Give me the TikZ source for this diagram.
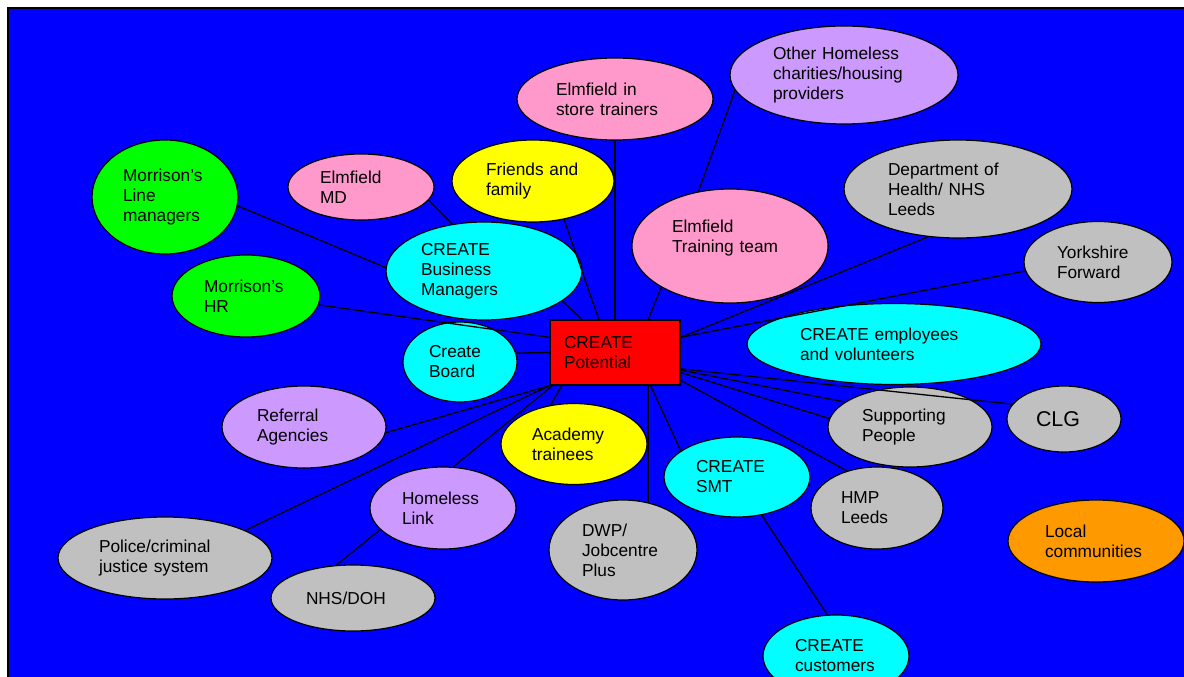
\documentclass[tikz,border=0pt]{standalone}
\usepackage{fontspec}
\setmainfont{Liberation Sans}
\usetikzlibrary{shapes.geometric}
\definecolor{bgblue}{RGB}{0,0,255}
\definecolor{mgreen}{RGB}{0,255,0}
\definecolor{epink}{RGB}{255,153,204}
\definecolor{fyellow}{RGB}{255,255,0}
\definecolor{ccyan}{RGB}{0,255,255}
\definecolor{hlilac}{RGB}{204,153,255}
\definecolor{ggrey}{RGB}{192,192,192}
\definecolor{lorange}{RGB}{255,153,0}
\definecolor{cred}{RGB}{255,0,0}

\begin{document}
\begin{tikzpicture}[x=1pt, y=-1pt,
	bubble/.style={ellipse, draw=black, line width=1.2pt, inner sep=0pt, align=left,
		font=\fontsize{17.3}{20}\selectfont},
	link/.style={draw=black, line width=1.3pt}]
			%%%%% START %%%%%
			
			\useasboundingbox (0, 0) rectangle (1184, 677);
			\clip (0, 0) rectangle (1184, 677);
			\draw[fill=bgblue, line width=2pt] (8, 8) rectangle (1200, 700);
			
			\node[draw=black, line width=1.6pt, fill=cred, minimum width=130pt, minimum height=65pt,
				text width=102pt, inner sep=0pt, align=left, font=\fontsize{17.3}{20}\selectfont]
				(cp) at (615, 352.5) {CREATE\\Potential};
			
			\node[bubble, fill=mgreen, minimum width=146pt, minimum height=114pt, text width=84pt] (mlm) at (165, 197) {Morrison’s\\Line\\managers};
			\node[bubble, fill=epink, minimum width=146pt, minimum height=66pt, text width=82pt] (emd) at (361, 187) {Elmfield\\MD};
			\node[bubble, fill=fyellow, minimum width=162pt, minimum height=82pt, text width=94pt] (ff) at (533, 181) {Friends and\\family};
			\node[bubble, fill=epink, minimum width=196pt, minimum height=82pt, text width=118pt] (est) at (615, 99) {Elmfield in\\store trainers};
			\node[bubble, fill=hlilac, minimum width=228pt, minimum height=98pt, text width=142pt] (ohc) at (844, 75) {Other Homeless\\charities/housing\\providers};
			\node[bubble, fill=epink, minimum width=196pt, minimum height=114pt, text width=116pt] (ett) at (730, 246) {Elmfield\\Training team\\\mbox{}};
			\node[bubble, fill=ggrey, minimum width=228pt, minimum height=98pt, text width=140pt] (dh) at (958, 189) {Department of\\Health/ NHS\\Leeds};
			\node[bubble, fill=ggrey, minimum width=148pt, minimum height=81pt, text width=82pt] (yf) at (1098, 262) {Yorkshire\\Forward};
			\node[bubble, fill=ccyan, minimum width=196pt, minimum height=98pt, text width=126pt] (bm) at (484, 271) {CREATE\\Business\\Managers};
			\node[bubble, fill=mgreen, minimum width=148pt, minimum height=82pt, text width=84pt] (hr) at (246, 296) {Morrison’s\\HR};
			\node[bubble, fill=ccyan, minimum width=114pt, minimum height=80pt, text width=62pt] (cb) at (460, 362) {Create\\Board};
			\node[bubble, fill=ccyan, minimum width=294pt, minimum height=81pt, text width=188pt] (emp) at (894, 344) {CREATE employees\\and volunteers};
			\node[bubble, fill=ggrey, minimum width=114pt, minimum height=66pt, text width=56pt,
				font=\fontsize{21.4}{24}\selectfont] (clg) at (1064, 419) {CLG};
			\node[bubble, fill=ggrey, minimum width=164pt, minimum height=80pt, text width=96pt] (sp) at (910, 427) {Supporting\\People};
			\node[bubble, fill=hlilac, minimum width=164pt, minimum height=82pt, text width=94pt] (ra) at (304, 427) {Referral\\Agencies};
			\node[bubble, fill=fyellow, minimum width=146pt, minimum height=81pt, text width=84pt] (at) at (574, 444) {Academy\\trainees};
			\node[bubble, fill=ccyan, minimum width=146pt, minimum height=80pt, text width=82pt] (smt) at (737, 477) {CREATE\\SMT};
			\node[bubble, fill=ggrey, minimum width=132pt, minimum height=82pt, text width=72pt] (hmp) at (877, 508) {HMP\\Leeds};
			\node[bubble, fill=lorange, minimum width=176pt, minimum height=82pt, text width=102pt] (lc) at (1096, 541) {Local\\communities};
			\node[bubble, fill=ggrey, minimum width=148pt, minimum height=100pt, text width=82pt] (dwp) at (623, 550) {DWP/\\Jobcentre\\Plus};
			\node[bubble, fill=hlilac, minimum width=146pt, minimum height=82pt, text width=82pt] (hl) at (443, 508) {Homeless\\Link};
			\node[bubble, fill=ggrey, minimum width=214pt, minimum height=82pt, text width=132pt] (pol) at (165, 558) {Police/criminal\\justice system};
			\node[bubble, fill=ggrey, minimum width=164pt, minimum height=66pt, text width=94pt] (nhs) at (353, 598) {NHS/DOH};
			\node[bubble, fill=ccyan, minimum width=146pt, minimum height=82pt, text width=82pt] (cust) at (836, 656) {CREATE\\customers};
			
			% links
			\draw[link] (hr.-7) -- (cp.167);
			\draw[link] (mlm.-7) -- (bm.178);
			\draw[link] (emd.-11) -- (bm.124);
			\draw[link] (bm.-21) -- (cp.135);
			\draw[link] (ff.-51) -- (cp.116);
			\draw[link] (est.south) -- (cp.north);
			\draw[link] (ett.211) -- (cp.45);
			\draw[link] (ohc.188) -- (ett.120);
			\draw[link] (dh.238) -- (cp.13);
			\draw[link] (yf.187) -- (cp.13);
			\draw[link] (cb.9) -- (cp.west);
			\draw[link] (clg.164) -- (cp.-14);
			\draw[link] (sp.159) -- (cp.-15);
			\draw[link] (sp.174) -- (cp.-17);
			\draw[link] (hmp.129) -- (cp.-23);
			\draw[link] (smt.155) -- (cp.-43);
			\draw[link] (dwp.62) -- (cp.-45);
			\draw[link] (smt.-57) -- (cust.102);
			\draw[link] (at.121) -- (cp.212);
			\draw[link] (hl.76) -- (cp.208);
			\draw[link] (ra.-4) -- (cp.south west);
			\draw[link] (pol.19) -- (cp.south west);
			\draw[link] (nhs.117) -- (hl.199);
			
			%%%%% END %%%%%
\end{tikzpicture}
\end{document}
